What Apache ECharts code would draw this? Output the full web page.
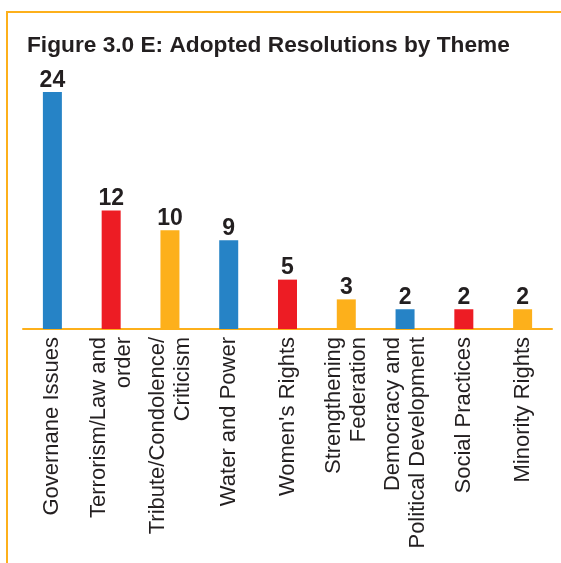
<!DOCTYPE html>
<html>
<head>
<meta charset="utf-8">
<style>
  html, body { margin: 0; padding: 0; background: #ffffff; }
  #chart { width: 561px; height: 563px; }
</style>
<script src="https://cdn.jsdelivr.net/npm/echarts@6/dist/echarts.min.js"></script>
</head>
<body>
<div id="chart"></div>
<script>
// Themes of adopted resolutions and how many were adopted under each
const themes = [
  'Governane Issues',
  'Terrorism/Law and\norder',
  'Tribute/Condolence/\nCriticism',
  'Water and Power',
  "Women's Rights",
  'Strengthening\nFederation',
  'Democracy and\nPolitical Development',
  'Social Practices',
  'Minority Rights'
];
const resolutions = [24, 12, 10, 9, 5, 3, 2, 2, 2];

// Bar colours repeat blue, red, orange
const palette = ['#2683c6', '#ed1c24', '#fdb01b'];
const ink = '#231f20';
const frame = '#fdb01b';

const chart = echarts.init(document.getElementById('chart'), null, { renderer: 'canvas' });

chart.setOption({
  animation: false,
  backgroundColor: '#ffffff',
  title: {
    text: 'Figure 3.0 E: Adopted Resolutions by Theme',
    left: 22,
    top: 29,
    textStyle: {
      fontFamily: 'Liberation Sans, Arial, sans-serif',
      fontWeight: 'bold',
      fontSize: 22.7,
      color: ink
    }
  },
  grid: { left: 23, right: 9, top: 92, bottom: 234, containLabel: false },
  xAxis: {
    type: 'category',
    data: themes,
    axisLine: { show: true, lineStyle: { color: frame, width: 2 } },
    axisTick: { show: false },
    axisLabel: {
      interval: 0,
      rotate: 90,
      margin: 8,
      fontFamily: 'Liberation Sans, Arial, sans-serif',
      fontSize: 22,
      lineHeight: 25,
      color: ink
    }
  },
  yAxis: {
    type: 'value',
    min: 0,
    max: 24,
    show: false,
    splitLine: { show: false }
  },
  series: [{
    type: 'bar',
    barWidth: 19,
    data: resolutions.map((v, i) => ({
      value: v,
      itemStyle: { color: palette[i % palette.length] }
    })),
    label: {
      show: true,
      position: 'top',
      distance: 0,
      fontFamily: 'Liberation Sans, Arial, sans-serif',
      fontWeight: 'bold',
      fontSize: 23,
      color: ink
    }
  }],
  graphic: [
    // Frame edges along the top and the left side
    {
      type: 'line',
      shape: { x1: 6, y1: 12, x2: 561, y2: 12 },
      style: { stroke: frame, lineWidth: 2 },
      silent: true
    },
    {
      type: 'line',
      shape: { x1: 7, y1: 11, x2: 7, y2: 563 },
      style: { stroke: frame, lineWidth: 2 },
      silent: true
    }
  ]
});
</script>
</body>
</html>
